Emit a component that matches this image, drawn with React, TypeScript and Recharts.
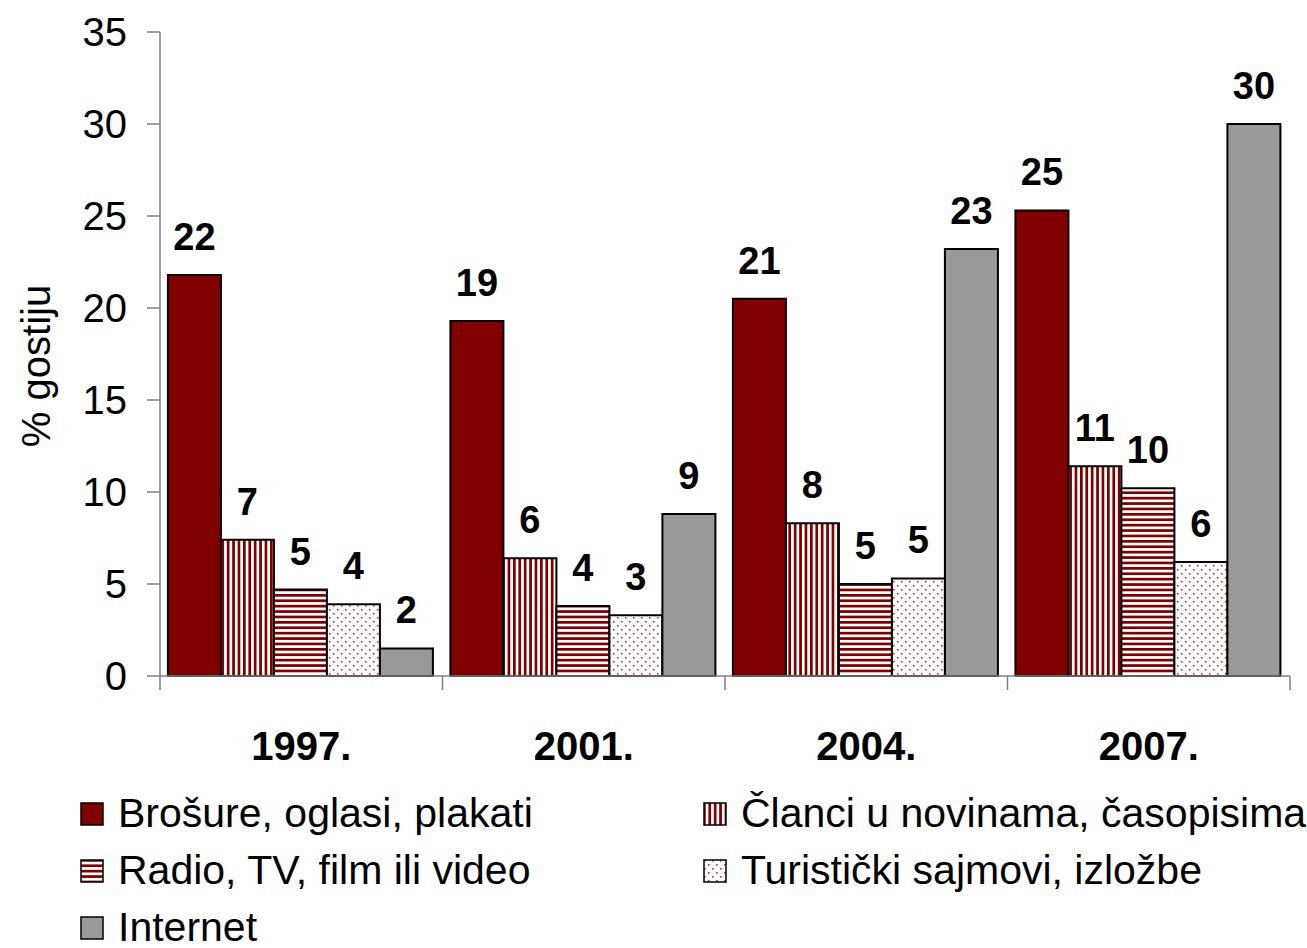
import { BarChart, Bar, XAxis, YAxis, LabelList } from "recharts";

// survey years and shares of guests (%) per information source
const years = ["1997.", "2001.", "2004.", "2007."];
const brosure = [21.8, 19.3, 20.5, 25.3];
const clanci = [7.4, 6.4, 8.3, 11.4];
const radio = [4.7, 3.8, 5.0, 10.2];
const sajmovi = [3.9, 3.3, 5.3, 6.2];
const internet = [1.5, 8.8, 23.2, 30.0];

const yTicks = [0, 5, 10, 15, 20, 25, 30, 35];

const seriesKeys = ["brosure", "clanci", "radio", "sajmovi", "internet"];
const seriesNames = [
  "Brošure, oglasi, plakati",
  "Članci u novinama, časopisima",
  "Radio, TV, film ili video",
  "Turistički sajmovi, izložbe",
  "Internet",
];

const fills: Record<string, string> = {
  brosure: "#800000",
  clanci: "url(#vstripe)",
  radio: "url(#hstripe)",
  sajmovi: "url(#dots)",
  internet: "#999999",
};

const data = years.map((year, i) => ({
  year,
  brosure: brosure[i],
  clanci: clanci[i],
  radio: radio[i],
  sajmovi: sajmovi[i],
  internet: internet[i],
}));

const FONT = "'Liberation Sans', Arial, sans-serif";
const AXIS = "#808080";
const TICK_MARGIN = 56;

function YTitle({ viewBox }: any) {
  const cx = viewBox.x + 26;
  const cy = viewBox.y + viewBox.height / 2 + 12;
  return (
    <text
      x={cx}
      y={cy}
      transform={`rotate(-90 ${cx} ${cy})`}
      textAnchor="middle"
      dominantBaseline="central"
      fontSize={40}
      fill="#000"
    >
      % gostiju
    </text>
  );
}

// year label plus tick marks on the category boundaries
function YearTick(props: any) {
  const { x, y, payload, index, width, visibleTicksCount } = props;
  const half =
    payload && typeof payload.offset === "number" && payload.offset > 0
      ? payload.offset
      : width / visibleTicksCount / 2;
  const axisY = y - TICK_MARGIN;
  const last = index === visibleTicksCount - 1;
  return (
    <g>
      <line x1={x - half} x2={x - half} y1={axisY} y2={axisY + 14} stroke={AXIS} strokeWidth={1.5} />
      {last && (
        <line x1={x + half} x2={x + half} y1={axisY} y2={axisY + 14} stroke={AXIS} strokeWidth={1.5} />
      )}
      <text
        x={x}
        y={y}
        dy="0.71em"
        textAnchor="middle"
        fontSize={40}
        fontWeight="bold"
        fill="#000"
      >
        {payload.value}
      </text>
    </g>
  );
}

export default function App() {
  return (
    <div
      style={{
        position: "absolute",
        left: 0,
        top: 0,
        width: 1307,
        height: 948,
        background: "#fff",
        fontFamily: FONT,
      }}
    >
      <BarChart
        width={1307}
        height={948}
        data={data}
        margin={{ top: 32, right: 17, bottom: 182, left: 10 }}
        barCategoryGap="2.8%"
        barGap={0}
      >
        <defs>
          <pattern id="vstripe" patternUnits="userSpaceOnUse" width="5.4" height="10">
            <rect width="5.4" height="10" fill="#fff" />
            <rect width="2.7" height="10" fill="#800000" />
          </pattern>
          <pattern id="hstripe" patternUnits="userSpaceOnUse" width="10" height="5.4">
            <rect width="10" height="5.4" fill="#fff" />
            <rect width="10" height="2.7" fill="#800000" />
          </pattern>
          <pattern id="dots" patternUnits="userSpaceOnUse" width="8" height="8">
            <rect width="8" height="8" fill="#fff" />
            <rect x="1" y="1" width="1.6" height="1.6" fill="#c03030" />
            <rect x="5" y="5" width="1.6" height="1.6" fill="#c03030" />
          </pattern>
        </defs>
        <XAxis
          dataKey="year"
          height={90}
          axisLine={{ stroke: AXIS, strokeWidth: 1.5 }}
          tickLine={false}
          tickSize={0}
          tickMargin={TICK_MARGIN}
          interval={0}
          tick={<YearTick />}
        />
        <YAxis
          width={150}
          domain={[0, 35]}
          ticks={yTicks}
          interval={0}
          axisLine={{ stroke: AXIS, strokeWidth: 1.5 }}
          tickLine={{ stroke: AXIS, strokeWidth: 1.5 }}
          tickSize={13}
          tickMargin={20}
          tick={{ fontSize: 40, fill: "#000" }}
          label={<YTitle />}
        />
        {seriesKeys.map((key, i) => (
          <Bar
            key={key}
            dataKey={key}
            name={seriesNames[i]}
            fill={fills[key]}
            stroke="#000"
            strokeWidth={2}
            isAnimationActive={false}
          >
            <LabelList
              dataKey={key}
              position="top"
              offset={25}
              formatter={(v: any) => Math.round(Number(v))}
              style={{ fontSize: 38, fontWeight: "bold", fill: "#000" }}
            />
          </Bar>
        ))}
      </BarChart>

      {/* legend, two columns */}
      <div
        style={{
          position: "absolute",
          left: 80,
          top: 785,
          display: "grid",
          gridTemplateColumns: "623px auto",
          gridAutoRows: "57px",
          fontSize: 41,
          lineHeight: "57px",
          color: "#000",
        }}
      >
        {seriesKeys.map((key, i) => (
          <div key={key} style={{ display: "flex", alignItems: "center", whiteSpace: "nowrap" }}>
            <svg width={24} height={24} style={{ marginRight: 14 }}>
              <rect x={1} y={1} width={22} height={22} fill={fills[key]} stroke="#000" strokeWidth={1.5} />
            </svg>
            <span>{seriesNames[i]}</span>
          </div>
        ))}
      </div>
    </div>
  );
}
